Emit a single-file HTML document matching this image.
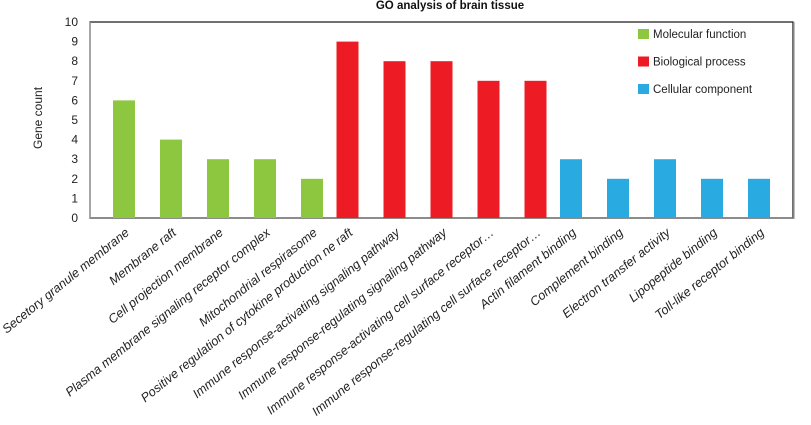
<!DOCTYPE html>
<html><head><meta charset="utf-8"><style>
body{margin:0;background:#fff;width:811px;height:420px;overflow:hidden}
svg{font-family:"Liberation Sans",sans-serif}
</style></head><body>
<svg id="chart" width="811" height="420"></svg>
<script>
const categories=["Secetory granule membrane","Membrane raft","Cell projection membrane","Plasma membrane signaling receptor complex","Mitochondrial respirasome","Positive regulation of cytokine production ne raft","Immune response-activating signaling pathway","Immune response-regulating signaling pathway","Immune response-activating cell surface receptor…","Immune response-regulating cell surface receptor…","Actin filament binding","Complement binding","Electron transfer activity","Lipopeptide binding","Toll-like receptor binding"];
const values=[6,4,3,3,2,9,8,8,7,7,3,2,3,2,2];
const groups=[0,0,0,0,0,1,1,1,1,1,2,2,2,2,2];
const seriesNames=["Molecular function","Biological process","Cellular component"];
const seriesColors=["#8dc63f","#ed1c24","#29abe2"];
const yTicks=[0,1,2,3,4,5,6,7,8,9,10];
const NS="http://www.w3.org/2000/svg";
const svg=document.getElementById('chart');
const L=90,R=793,T=22,B=218,yMax=10;
const groupOffset=[0,-11.5,-23];
const y=v=>B-(v/yMax)*(B-T);
const x=i=>124+47*i+groupOffset[groups[i]];
function el(t,a,txt){const e=document.createElementNS(NS,t);for(const k in a)e.setAttribute(k,a[k]);if(txt!==undefined)e.textContent=txt;svg.appendChild(e);return e;}
let e;
e=el('text',{x:450,y:9,'text-anchor':'middle','font-size':'11.5','font-weight':'bold',fill:'#111'},'GO analysis of brain tissue');


e=el('rect',{x:L,y:T,width:R-L,height:B-T,fill:'none',stroke:'#111','stroke-width':1.2});


e=el('line',{x1:R+1,y1:T,x2:R+1,y2:B+1,stroke:'#aaa','stroke-width':1.5});


e=el('line',{x1:L,y1:B,x2:R,y2:B,stroke:'#777','stroke-width':1.5});


e=el('line',{x1:L,y1:T,x2:L,y2:B,stroke:'#999','stroke-width':1.5});


yTicks.forEach(t=>{
  const tx=el('text',{x:78,y:y(t)+4,'text-anchor':'end','font-size':'12',fill:'#222'},t);
  
  
});
e=el('text',{x:0,y:0,transform:'translate(42,118) rotate(-90)','text-anchor':'middle','font-size':'12',fill:'#222'},'Gene count');


values.forEach((v,i)=>{
  const r=el('rect',{x:x(i)-11,y:y(v),width:22,height:B-y(v),fill:seriesColors[groups[i]]});
  
  
  const lb=el('text',{x:0,y:0,transform:`translate(${x(i)+6},${B+16}) rotate(-39)`,'text-anchor':'end','font-size':'12.6','font-style':'italic',fill:'#222'},categories[i]);
  
  
});
seriesNames.forEach((n,k)=>{
  const yy=29+k*27.5;
  const s=el('rect',{x:638,y:yy,width:11,height:10,fill:seriesColors[k]});
  
  
  const t=el('text',{x:653,y:yy+9,'font-size':'11.5',fill:'#222'},n);
  
  
});
</script>
</body></html>
